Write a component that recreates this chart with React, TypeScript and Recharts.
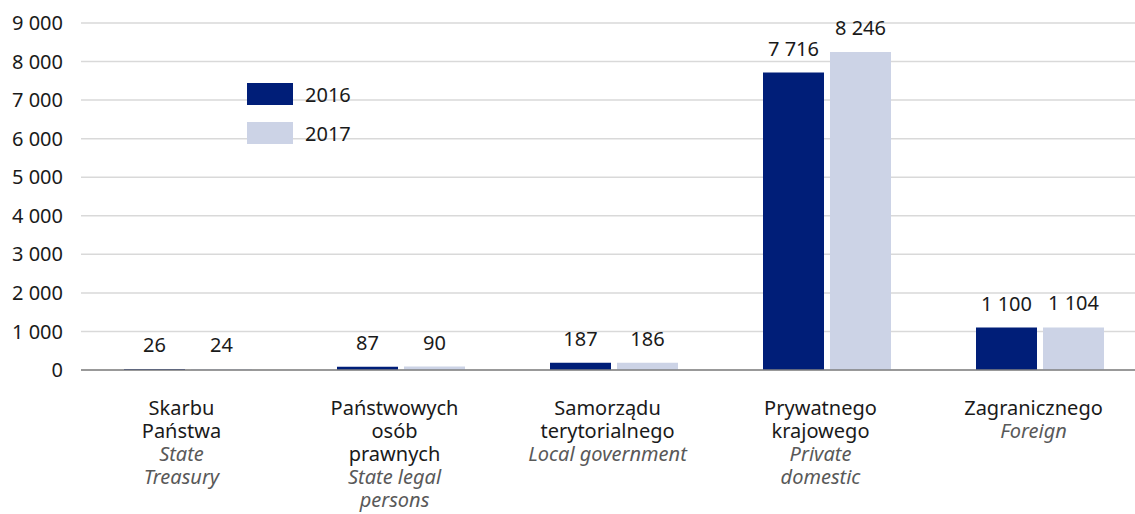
import { Bar, BarChart, CartesianGrid, LabelList, Legend, XAxis, YAxis } from "recharts";

const categories = ["Skarbu Państwa", "Państwowych osób prawnych", "Samorządu terytorialnego", "Prywatnego krajowego", "Zagranicznego"];
const plLines = [["Skarbu", "Państwa"], ["Państwowych", "osób", "prawnych"], ["Samorządu", "terytorialnego"], ["Prywatnego", "krajowego"], ["Zagranicznego"]];
const enLines = [["State", "Treasury"], ["State legal", "persons"], ["Local government"], ["Private", "domestic"], ["Foreign"]];
const values2016 = [26, 87, 187, 7716, 1100];
const values2017 = [24, 90, 186, 8246, 1104];
const yTicks = [0, 1000, 2000, 3000, 4000, 5000, 6000, 7000, 8000, 9000];

const data = categories.map((name, i) => ({ name, y2016: values2016[i], y2017: values2017[i] }));

const DARK = "#001E78";
const LIGHT = "#CCD3E6";
const FONT = "'Noto Sans', sans-serif";
const FS = 20;

const fmt = (v: any) => String(v).replace(/\B(?=(\d{3})+(?!\d))/g, " ");

const CategoryTick = ({ x, y, payload }: any) => {
  const i = categories.indexOf(payload.value);
  const pl = plLines[i] || [];
  const en = enLines[i] || [];
  return (
    <g>
      {pl.map((t, k) => (
        <text key={"p" + k} x={x - 6} y={y + 45 + k * 23} textAnchor="middle" fill="#1a1a1a" fontSize={FS} fontFamily={FONT}>
          {t}
        </text>
      ))}
      {en.map((t, k) => (
        <text key={"e" + k} x={x - 6} y={y + 45 + (pl.length + k) * 23} textAnchor="middle" fill="#595959" fontSize={FS} fontStyle="italic" fontFamily={FONT}>
          {t}
        </text>
      ))}
    </g>
  );
};

const LegendBox = () => (
  <div style={{ fontFamily: FONT, fontSize: FS, color: "#1a1a1a" }}>
    {[["2016", DARK], ["2017", LIGHT]].map(([label, color], k) => (
      <div key={label} style={{ display: "flex", alignItems: "center", height: 22, marginBottom: k === 0 ? 17 : 0 }}>
        <div style={{ width: 46, height: 22, background: color }} />
        <span style={{ marginLeft: 12 }}>{label}</span>
      </div>
    ))}
  </div>
);

export default function App() {
  return (
    <div style={{ position: "absolute", left: 0, top: 0, width: 1135, height: 514, overflow: "hidden", background: "#fff" }}>
      <BarChart width={1146} height={514} data={data} margin={{ top: 23, right: 0, left: 0, bottom: 0 }} barSize={61} barGap={6}>
        <CartesianGrid vertical={false} stroke="#D9D9D9" strokeWidth={1.5} />
        <XAxis
          dataKey="name"
          height={144}
          tickLine={false}
          tickSize={0}
          tickMargin={0}
          axisLine={{ stroke: "#808080", strokeWidth: 1.5 }}
          tick={<CategoryTick />}
          interval={0}
        />
        <YAxis
          width={81}
          domain={[0, 9000]}
          ticks={yTicks}
          tickFormatter={fmt}
          axisLine={false}
          tickLine={false}
          tickSize={0}
          tickMargin={18}
          tick={{ fill: "#1a1a1a", fontSize: FS, fontFamily: FONT }}
        />
        <Legend
          layout="vertical"
          align="center"
          verticalAlign="middle"
          content={<LegendBox />}
          wrapperStyle={{ position: "absolute", left: 247, top: 83, width: 120 }}
        />
        <Bar dataKey="y2016" name="2016" fill={DARK} isAnimationActive={false}>
          <LabelList dataKey="y2016" position="top" offset={17} formatter={fmt} fill="#1a1a1a" fontSize={FS} fontFamily={FONT} />
        </Bar>
        <Bar dataKey="y2017" name="2017" fill={LIGHT} isAnimationActive={false}>
          <LabelList dataKey="y2017" position="top" offset={17} formatter={fmt} fill="#1a1a1a" fontSize={FS} fontFamily={FONT} />
        </Bar>
      </BarChart>
    </div>
  );
}
